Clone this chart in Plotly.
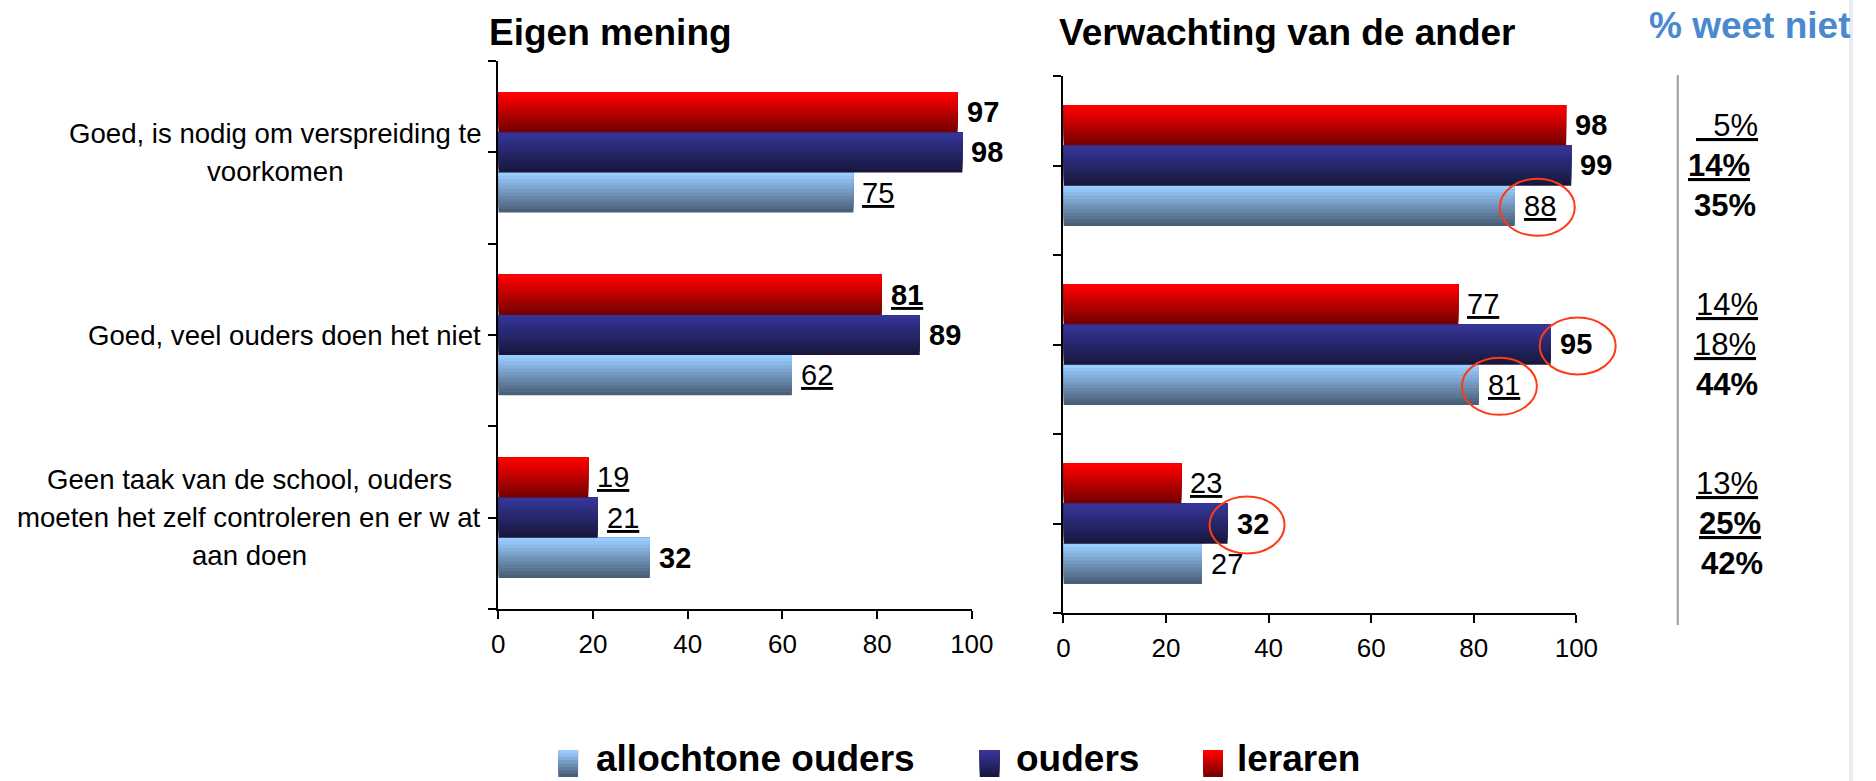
import plotly.graph_objects as go

# categories, top to bottom
CATEGORIES = [
    'Goed, is nodig om verspreiding te<br>voorkomen',
    'Goed, veel ouders doen het niet',
    'Geen taak van de school, ouders<br>moeten het zelf controleren en er w at<br>aan doen',
]
SERIES = ['allochtone ouders', 'ouders', 'leraren']

# Eigen mening (%)
EIGEN_ALLOCHTOON = [75, 62, 32]
EIGEN_OUDERS = [98, 89, 21]
EIGEN_LERAREN = [97, 81, 19]

# Verwachting van de ander (%)
VERW_ALLOCHTOON = [88, 81, 27]
VERW_OUDERS = [99, 95, 32]
VERW_LERAREN = [98, 77, 23]

# % weet niet
WEET_NIET_LERAREN = [5, 14, 13]
WEET_NIET_OUDERS = [14, 18, 25]
WEET_NIET_ALLOCHTOON = [35, 44, 42]

X_TICKS = [0, 20, 40, 60, 80, 100]

# label emphasis: b = bold, u = underline
EIGEN_STYLE = [['u', 'u', 'b'], ['b', 'b', 'u'], ['b', 'bu', 'u']]
VERW_STYLE = [['u', 'u', ''], ['b', 'b', 'b'], ['b', 'u', 'u']]
VERW_CIRCLED = [[True, True, False], [False, True, True], [False, False, False]]
WEET_STYLE = [['b', 'b', 'b'], ['bu', 'u', 'bu'], ['u', 'u', 'u']]

# gradient (bottom colour, top colour) per series
GRADIENTS = [('#4a5f78', '#9acdff'), ('#18183f', '#353599'), ('#780000', '#ff0000')]

W, H = 1876, 781
FONT = 'Liberation Sans, Arial, sans-serif'
N_BANDS = 12
YPOS = [2, 1, 0]
CAT_CENTER_X = [273, 282, 246]   # centre of each wrapped label block (px)
LINE_STEP = 38                   # line spacing of the wrapped labels (px)


def mix(c0, c1, t):
    a = [int(c0[i:i + 2], 16) for i in (1, 3, 5)]
    b = [int(c1[i:i + 2], 16) for i in (1, 3, 5)]
    return 'rgb(%d,%d,%d)' % tuple(round(a[j] + (b[j] - a[j]) * t) for j in range(3))


def fmt(v, style, suffix=''):
    t = f'{v}{suffix}'
    if 'u' in style:
        t = f'<u>{t}</u>'
    if 'b' in style:
        t = f'<b>{t}</b>'
    return t


fig = go.Figure()
annotations = []


def add_panel(values, styles, xa, ya, bw):
    for s, vals in enumerate(values):
        c0, c1 = GRADIENTS[s]
        base = (s - 1.5) * bw
        h = bw / N_BANDS
        # stacked bands fake the vertical gradient of the original bars
        for k in range(N_BANDS):
            fig.add_trace(go.Bar(
                x=vals, y=YPOS, orientation='h',
                offset=base + k * h, width=bw - k * h,
                marker=dict(color=mix(c0, c1, k / (N_BANDS - 1)), line_width=0),
                xaxis=xa, yaxis=ya, showlegend=False, hoverinfo='skip',
            ))
        for v, p, st in zip(vals, YPOS, styles[s]):
            annotations.append(dict(
                text=fmt(v, st), xref=xa, yref=ya, x=v, y=p + (s - 1) * bw,
                xanchor='left', yanchor='middle', xshift=7, showarrow=False,
                font=dict(size=29, color='black', family=FONT)))


BW_L, BW_R = 0.22, 0.225
add_panel([EIGEN_ALLOCHTOON, EIGEN_OUDERS, EIGEN_LERAREN], EIGEN_STYLE, 'x', 'y', BW_L)
add_panel([VERW_ALLOCHTOON, VERW_OUDERS, VERW_LERAREN], VERW_STYLE, 'x2', 'y2', BW_R)

# circled values in the right panel ('x2 domain' so the ring is not clipped at 100)
shapes = []
circ_px = {(0, 0): (-15, 60), (0, 1): (-17, 58), (1, 1): (-11, 65), (1, 2): (-18, 57)}
for s, vals in enumerate([VERW_ALLOCHTOON, VERW_OUDERS, VERW_LERAREN]):
    for i, v in enumerate(vals):
        if VERW_CIRCLED[s][i]:
            x0, x1 = circ_px.get((s, i), (-15, 60))
            shapes.append(dict(
                type='circle', xref='x2 domain', yref='y2', xsizemode='pixel', ysizemode='pixel',
                xanchor=v / 100, yanchor=YPOS[i] + (s - 1) * BW_R, x0=x0, x1=x1, y0=-30, y1=27,
                line=dict(color='#ff3a14', width=2), layer='above',
            ))

# separator line for the "% weet niet" column
shapes.append(dict(type='line', xref='paper', yref='paper', x0=1697 / W, x1=1697 / W,
                   y0=1 - 625 / H, y1=1 - 75 / H, line=dict(color='#9a9a9a', width=2)))
# faint slide edge on the right
shapes.append(dict(type='line', xref='paper', yref='paper', x0=1873 / W, x1=1873 / W,
                   y0=0, y1=1, line=dict(color='#e6ecf2', width=4)))

# wrapped category labels, one annotation per line so the spacing matches
for cat, p, cx in zip(CATEGORIES, YPOS, CAT_CENTER_X):
    lines = cat.split('<br>')
    for j, line in enumerate(lines):
        annotations.append(dict(text=line, xref='paper', x=cx / W, xanchor='center', yref='y', y=p,
                                yanchor='middle', yshift=((len(lines) - 1) / 2 - j) * LINE_STEP,
                                showarrow=False, font=dict(size=27.6, color='black', family=FONT)))

for txt, x, y, col in [('Eigen mening', 488, 32, 'black'),
                       ('Verwachting van de ander', 1066, 32, 'black'),
                       ('% weet niet', 1666, 26, '#4a89d0')]:
    annotations.append(dict(text=f'<b>{txt}</b>', xref='paper', yref='paper', x=x / W, y=1 - y / H,
                            xanchor='left', yanchor='middle', showarrow=False,
                            font=dict(size=37, color=col, family=FONT)))

weet = [WEET_NIET_ALLOCHTOON, WEET_NIET_OUDERS, WEET_NIET_LERAREN]
weet_x = [[1745, 1747, 1752], [1739, 1745, 1750], [1747, 1747, 1747]]
for s, vals in enumerate(weet):
    for i, v in enumerate(vals):
        label = f'\u00a0\u00a0{v}' if v < 10 else str(v)
        annotations.append(dict(text=fmt(label, WEET_STYLE[s][i], '%'), xref='paper', x=weet_x[s][i] / W,
                                yref='y2', y=YPOS[i] + (s - 1) * BW_R, xanchor='center', yanchor='middle',
                                showarrow=False, font=dict(size=31, color='black', family=FONT)))

# legend drawn by hand so the swatches can carry the gradient
leg_sw = [560, 988, 1215]
leg_tx = [596, 1023, 1247]
for s, name in enumerate(SERIES):
    c0, c1 = GRADIENTS[s]
    top, bot = 750, 777
    n = 8
    for k in range(n):
        y0 = bot - (bot - top) * k / n
        shapes.append(dict(type='rect', xref='paper', yref='paper', x0=leg_sw[s] / W, x1=(leg_sw[s] + 20) / W,
                           y0=1 - y0 / H, y1=1 - top / H, line_width=0,
                           fillcolor=mix(c0, c1, k / (n - 1))))
    annotations.append(dict(text=f'<b>{name}</b>', xref='paper', yref='paper', x=leg_tx[s] / W, y=0,
                            xanchor='left', yanchor='bottom', showarrow=False,
                            font=dict(size=37, color='black', family=FONT)))

axis_common = dict(showgrid=False, zeroline=False, showline=True, linecolor='black', linewidth=2,
                   ticks='outside', ticklen=8, tickwidth=2, tickcolor='black')
xcommon = dict(axis_common, range=[0, 100], tickvals=X_TICKS, fixedrange=True, ticklabelstandoff=3,
               tickfont=dict(size=26, color='black', family=FONT))
ycommon = dict(axis_common, range=[-0.5, 2.5], tickvals=[-0.5, 0, 0.5, 1, 1.5, 2, 2.5],
               showticklabels=False, fixedrange=True)

fig.update_layout(
    autosize=True, margin=dict(l=0, r=0, t=0, b=0),
    paper_bgcolor='white', plot_bgcolor='white',
    barmode='overlay', showlegend=False,
    font=dict(family=FONT, color='black'),
    xaxis=dict(xcommon, domain=[499 / W, 980 / W], anchor='y'),
    yaxis=dict(ycommon, domain=[1 - 609 / H, 1 - 61 / H], anchor='x'),
    xaxis2=dict(xcommon, domain=[1073 / W, 1594 / W], anchor='y2'),
    yaxis2=dict(ycommon, domain=[1 - 613 / H, 1 - 76 / H], anchor='x2'),
    shapes=shapes, annotations=annotations,
)

fig.write_html(
    'out.html', config={'displayModeBar': False},
    default_width='100vw', default_height='100vh',
    post_script="document.body.style.margin='0';document.body.style.overflow='hidden';"
                "Plotly.Plots.resize(document.getElementById('{plot_id}'));",
)
